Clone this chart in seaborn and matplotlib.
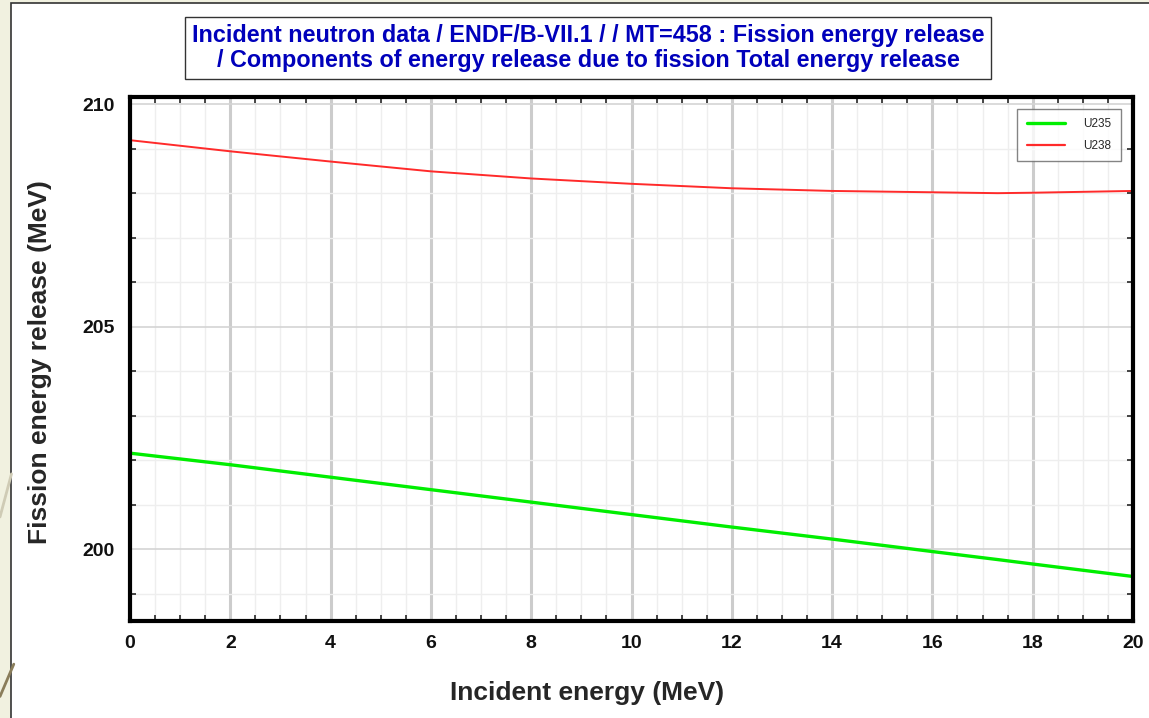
import matplotlib
matplotlib.use("Agg")
import matplotlib.pyplot as plt
import seaborn as sns
import pandas as pd
from matplotlib.ticker import MultipleLocator
from matplotlib.patches import Rectangle
from matplotlib.lines import Line2D

# ---- data ----
energy = [0, 2, 4, 6, 8, 10, 12, 14, 16, 17.3, 18, 20]
u235 = [202.16, 201.90, 201.62, 201.34, 201.06, 200.78, 200.50, 200.23, 199.95, 199.77, 199.67, 199.39]
u238 = [209.19, 208.94, 208.71, 208.49, 208.33, 208.21, 208.11, 208.05, 208.02, 208.00, 208.01, 208.05]
series_names = ["U235", "U238"]
series_colors = ["#00ee00", "#ff2a2a"]
x_ticks = [0, 2, 4, 6, 8, 10, 12, 14, 16, 18, 20]
y_ticks = [200, 205, 210]

df = pd.concat([
    pd.DataFrame({"E": energy, "Q": u235, "nuclide": series_names[0]}),
    pd.DataFrame({"E": energy, "Q": u238, "nuclide": series_names[1]}),
])

sns.set_style("white")
plt.rcParams["font.family"] = ["Liberation Sans", "DejaVu Sans"]

fig = plt.figure(figsize=(11.49, 7.18), dpi=100)
fig.patch.set_facecolor("#f1f1e0")
# slide decoration lines on the beige strip
fig.add_artist(Line2D([0, 0.012], [0.03, 0.075], color="#8a7d5a", lw=2, transform=fig.transFigure))
fig.add_artist(Line2D([0, 0.010], [0.28, 0.34], color="#cfcbb5", lw=2, transform=fig.transFigure))
# white panel
fig.add_artist(Rectangle((11/1149, -0.01), 1.0, 1 - 3/718 + 0.01, transform=fig.transFigure,
                         facecolor="white", edgecolor="#333333", lw=1.2, zorder=0))

ax = fig.add_axes([130/1149, 1 - 621/718, (1133 - 130)/1149, (621 - 97)/718])
sns.lineplot(data=df, x="E", y="Q", hue="nuclide", palette=series_colors,
             ax=ax, legend=False, estimator=None, sort=True)
lines = ax.get_lines()
lines[0].set_linewidth(2.4)
lines[1].set_linewidth(1.4)

ax.set_xlim(0, 20)
ax.set_ylim(198.39, 210.16)
ax.set_xticks(x_ticks)
ax.set_yticks(y_ticks)
ax.xaxis.set_minor_locator(MultipleLocator(0.5))
ax.yaxis.set_minor_locator(MultipleLocator(1))

ax.grid(True, which="major", axis="x", color="#cccccc", lw=2.2)
ax.grid(True, which="major", axis="y", color="#d4d4d4", lw=1.2)
ax.grid(True, which="minor", color="#eeeeee", lw=1.0)
ax.set_axisbelow(True)

for s in ax.spines.values():
    s.set_visible(True)
    s.set_color("black")
    s.set_linewidth(3)

ax.tick_params(axis="x", which="major", direction="inout", length=12, width=2.5,
               labelsize=14, pad=4, top=False)
ax.tick_params(axis="y", which="major", direction="out", length=8, width=1.5,
               labelsize=14, pad=3, right=False)
ax.tick_params(which="minor", direction="in", length=4, width=1.2, top=True, right=True, bottom=True, left=True)
for lab in ax.get_xticklabels() + ax.get_yticklabels():
    lab.set_fontweight("bold")
    lab.set_color("#111111")

ax.set_xlabel("Incident energy (MeV)", fontsize=19, fontweight="bold", va="center")
ax.xaxis.set_label_coords((587 - 130) / 1003, -(693 - 621) / 524)
ax.set_ylabel("Fission energy release (MeV)", fontsize=19, fontweight="bold", va="center")
ax.yaxis.set_label_coords(-(130 - 40) / 1003, (621 - 362) / 524)

handles = [Line2D([], [], color=series_colors[0], lw=2.4),
           Line2D([], [], color=series_colors[1], lw=1.6)]
leg = ax.legend(handles, series_names, loc="upper right", bbox_to_anchor=(0.988, 0.977),
                borderaxespad=0, fontsize=8.5, frameon=True, fancybox=False, handlelength=3.2,
                borderpad=0.8, labelspacing=0.8, handletextpad=1.6)
leg.get_frame().set_edgecolor("#666666")
leg.get_frame().set_linewidth(1.0)

fig.text(588/1149, 1 - 48/718,
         "Incident neutron data / ENDF/B-VII.1 / / MT=458 : Fission energy release\n"
         "/ Components of energy release due to fission Total energy release",
         ha="center", va="center", fontsize=16.8, fontweight="bold", color="#0000bb",
         linespacing=1.15,
         bbox=dict(boxstyle="square,pad=0.3", facecolor="white", edgecolor="#333333", lw=1.0))

fig.savefig("out.png", dpi=100, facecolor=fig.get_facecolor())
